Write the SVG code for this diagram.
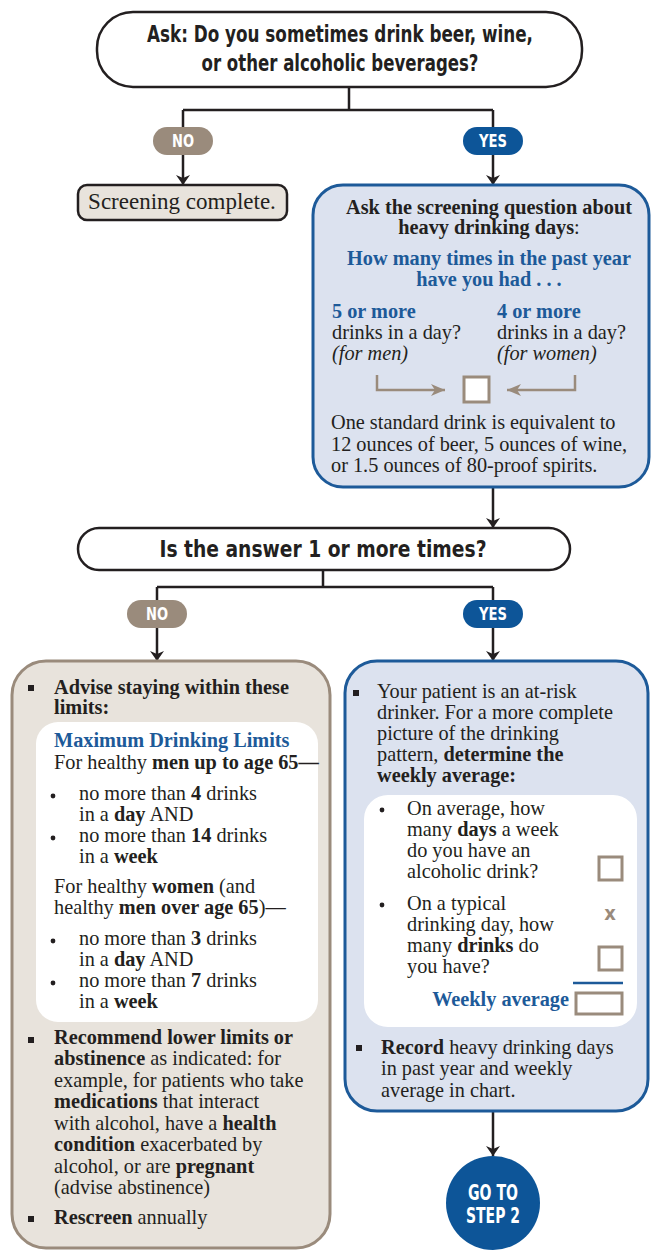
<svg xmlns="http://www.w3.org/2000/svg" width="670" height="1254" viewBox="0 0 670 1254">
<style>
.cond{font-family:"DejaVu Sans Condensed","DejaVu Sans",sans-serif;font-weight:bold;font-stretch:condensed}
.ser{font-family:"Liberation Serif",serif;font-size:20.3px;fill:#231f20}
.b{font-weight:bold}
.bl{fill:#1d5a99}
.it{font-style:italic}
.dec{fill:#fff;stroke:#231f20;stroke-width:2.5}
.conn{fill:none;stroke:#231f20;stroke-width:2.5}
.tan{fill:#e8e3dc;stroke:#9a8b7c;stroke-width:3}
.blu{fill:#dce2ef;stroke:#1d5a99;stroke-width:3}
.pillno{fill:#9a8b7c}
.pillyes{fill:#0d5598}
.pilltxt{fill:#fff;font-size:17px;text-anchor:middle}
.chk{fill:#fff;stroke:#9a8b7c;stroke-width:3}
.sq{fill:#231f20}
</style>
<defs>
<marker id="ah" viewBox="0 0 10 14" refX="10" refY="7" markerWidth="10" markerHeight="14" markerUnits="userSpaceOnUse" orient="auto">
<path d="M0,0 L10,7 L0,14 L3,7 Z" fill="#231f20"/>
</marker>
<marker id="ahT" viewBox="0 0 14 12" refX="14" refY="6" markerWidth="14" markerHeight="12" markerUnits="userSpaceOnUse" orient="auto">
<path d="M0,0 L14,6 L0,12 L4,6 Z" fill="#9a8b7c"/>
</marker>
</defs>

<g id="connectors">
<path class="conn" d="M349,87 V110 M183,110 H493 M183,110 V128 M493,110 V128"/>
<path class="conn" d="M183,154 V185" marker-end="url(#ah)"/>
<path class="conn" d="M493,154 V185" marker-end="url(#ah)"/>
<path class="conn" d="M493,488 V528" marker-end="url(#ah)"/>
<path class="conn" d="M323,570 V587 M157,587 H493 M157,587 V601 M493,587 V601"/>
<path class="conn" d="M157,627 V661" marker-end="url(#ah)"/>
<path class="conn" d="M493,627 V661" marker-end="url(#ah)"/>
<path class="conn" d="M493,1112 V1156" marker-end="url(#ah)"/>
</g>

<g id="q1">
<rect class="dec" x="97" y="12" width="485" height="75" rx="36"/>
<text class="cond" font-size="23" fill="#231f20" text-anchor="middle"><tspan x="340" y="42" textLength="386" lengthAdjust="spacingAndGlyphs">Ask: Do you sometimes drink beer, wine,</tspan><tspan x="340" y="71" textLength="277" lengthAdjust="spacingAndGlyphs">or other alcoholic beverages?</tspan></text>
</g>

<g id="no1">
<rect class="pillno" x="153" y="127" width="60" height="28" rx="14"/>
<text class="cond pilltxt" x="183" y="147" textLength="22" lengthAdjust="spacingAndGlyphs">NO</text>
</g>
<g id="yes1">
<rect class="pillyes" x="463" y="127" width="60" height="28" rx="14"/>
<text class="cond pilltxt" x="493" y="147" textLength="28" lengthAdjust="spacingAndGlyphs">YES</text>
</g>

<g id="screening-complete">
<rect x="78" y="185" width="209" height="35" rx="9" fill="#e8e3dc" stroke="#231f20" stroke-width="2.5"/>
<text class="ser" x="182" y="209" text-anchor="middle" style="font-size:23px">Screening complete.</text>
</g>

<g id="ask-heavy">
<rect class="blu" x="313" y="185" width="336" height="302" rx="30"/>
<text class="ser" text-anchor="middle"><tspan class="b" x="489" y="214">Ask the screening question about</tspan><tspan x="489" y="234"><tspan class="b">heavy drinking days</tspan>:</tspan></text>
<text class="ser b bl" text-anchor="middle"><tspan x="489" y="265">How many times in the past year</tspan><tspan x="489" y="286">have you had . . .</tspan></text>
<text class="ser"><tspan class="b bl" x="332" y="318">5 or more</tspan><tspan x="332" y="339">drinks in a day?</tspan><tspan class="it" x="332" y="360">(for men)</tspan></text>
<text class="ser"><tspan class="b bl" x="497" y="318">4 or more</tspan><tspan x="497" y="339">drinks in a day?</tspan><tspan class="it" x="497" y="360">(for women)</tspan></text>
<path d="M377,375 V390 H445" fill="none" stroke="#9a8b7c" stroke-width="2.5" marker-end="url(#ahT)"/>
<path d="M575,375 V390 H507" fill="none" stroke="#9a8b7c" stroke-width="2.5" marker-end="url(#ahT)"/>
<rect class="chk" x="464" y="377" width="25" height="25"/>
<text class="ser"><tspan x="331" y="429">One standard drink is equivalent to</tspan><tspan x="331" y="451">12 ounces of beer, 5 ounces of wine,</tspan><tspan x="331" y="472">or 1.5 ounces of 80-proof spirits.</tspan></text>
</g>

<g id="q2">
<rect class="dec" x="78" y="528" width="492" height="42" rx="21"/>
<text class="cond" font-size="23" fill="#231f20" text-anchor="middle" x="323" y="557" textLength="327" lengthAdjust="spacingAndGlyphs">Is the answer 1 or more times?</text>
</g>

<g id="no2">
<rect class="pillno" x="127" y="600" width="60" height="28" rx="14"/>
<text class="cond pilltxt" x="157" y="620" textLength="22" lengthAdjust="spacingAndGlyphs">NO</text>
</g>
<g id="yes2">
<rect class="pillyes" x="463" y="600" width="60" height="28" rx="14"/>
<text class="cond pilltxt" x="493" y="620" textLength="28" lengthAdjust="spacingAndGlyphs">YES</text>
</g>

<g id="advise">
<rect class="tan" x="12" y="661" width="318" height="587" rx="34"/>
<rect class="sq" x="28" y="685" width="6" height="6"/>
<text class="ser b"><tspan x="54" y="694">Advise staying within these</tspan><tspan x="54" y="714">limits:</tspan></text>
<rect x="36" y="722" width="282" height="300" rx="22" fill="#fff"/>
<text class="ser b bl" x="54" y="747">Maximum Drinking Limits</text>
<text class="ser" x="54" y="769">For healthy <tspan class="b">men up to age 65—</tspan></text>
<circle cx="53" cy="796" r="2.4" fill="#231f20"/>
<text class="ser"><tspan x="79" y="800">no more than <tspan class="b">4</tspan> drinks</tspan><tspan x="79" y="821">in a <tspan class="b">day</tspan> AND</tspan></text>
<circle cx="53" cy="838" r="2.4" fill="#231f20"/>
<text class="ser"><tspan x="79" y="842">no more than <tspan class="b">14</tspan> drinks</tspan><tspan x="79" y="863">in a <tspan class="b">week</tspan></tspan></text>
<text class="ser"><tspan x="54" y="893">For healthy <tspan class="b">women</tspan> (and</tspan><tspan x="54" y="914">healthy <tspan class="b">men over age 65</tspan>)—</tspan></text>
<circle cx="53" cy="941" r="2.4" fill="#231f20"/>
<text class="ser"><tspan x="79" y="945">no more than <tspan class="b">3</tspan> drinks</tspan><tspan x="79" y="966">in a <tspan class="b">day</tspan> AND</tspan></text>
<circle cx="53" cy="983" r="2.4" fill="#231f20"/>
<text class="ser"><tspan x="79" y="987">no more than <tspan class="b">7</tspan> drinks</tspan><tspan x="79" y="1008">in a <tspan class="b">week</tspan></tspan></text>
<rect class="sq" x="28" y="1037" width="6" height="6"/>
<text class="ser"><tspan x="54" y="1044" class="b">Recommend lower limits or</tspan><tspan x="54" y="1065"><tspan class="b">abstinence</tspan> as indicated: for</tspan><tspan x="54" y="1087">example, for patients who take</tspan><tspan x="54" y="1108"><tspan class="b">medications</tspan> that interact</tspan><tspan x="54" y="1130">with alcohol, have a <tspan class="b">health</tspan></tspan><tspan x="54" y="1151"><tspan class="b">condition</tspan> exacerbated by</tspan><tspan x="54" y="1173">alcohol, or are <tspan class="b">pregnant</tspan></tspan><tspan x="54" y="1194">(advise abstinence)</tspan></text>
<rect class="sq" x="28" y="1216" width="6" height="6"/>
<text class="ser" x="54" y="1224"><tspan class="b">Rescreen</tspan> annually</text>
</g>

<g id="at-risk">
<rect class="blu" x="345" y="661" width="303" height="450" rx="32"/>
<rect class="sq" x="353" y="690" width="6" height="6"/>
<text class="ser"><tspan x="377" y="698">Your patient is an at-risk</tspan><tspan x="377" y="719">drinker. For a more complete</tspan><tspan x="377" y="740">picture of the drinking</tspan><tspan x="377" y="761">pattern, <tspan class="b">determine the</tspan></tspan><tspan x="377" y="782" class="b">weekly average:</tspan></text>
<rect x="364" y="795" width="273" height="232" rx="24" fill="#fff"/>
<circle cx="382" cy="810" r="2.4" fill="#231f20"/>
<text class="ser"><tspan x="407" y="815">On average, how</tspan><tspan x="407" y="836">many <tspan class="b">days</tspan> a week</tspan><tspan x="407" y="857">do you have an</tspan><tspan x="407" y="878">alcoholic drink?</tspan></text>
<rect class="chk" x="599" y="857" width="23" height="23"/>
<circle cx="382" cy="905" r="2.4" fill="#231f20"/>
<text class="ser"><tspan x="407" y="910">On a typical</tspan><tspan x="407" y="931">drinking day, how</tspan><tspan x="407" y="952">many <tspan class="b">drinks</tspan> do</tspan><tspan x="407" y="973">you have?</tspan></text>
<text class="cond" font-size="20" fill="#9a8b7c" text-anchor="middle" x="610" y="920">x</text>
<rect class="chk" x="599" y="947" width="23" height="23"/>
<line x1="573" y1="983" x2="623" y2="983" stroke="#1d5a99" stroke-width="2.5"/>
<text class="ser b bl" x="569" y="1006" text-anchor="end">Weekly average</text>
<rect class="chk" x="576" y="993" width="46" height="21"/>
<rect class="sq" x="356" y="1045" width="6" height="6"/>
<text class="ser"><tspan x="381" y="1054"><tspan class="b">Record</tspan> heavy drinking days</tspan><tspan x="381" y="1075">in past year and weekly</tspan><tspan x="381" y="1097">average in chart.</tspan></text>
</g>

<g id="step2">
<circle cx="493" cy="1203" r="47" fill="#0d5598"/>
<text class="cond" font-size="21" fill="#fff" text-anchor="middle"><tspan x="493" y="1200" textLength="50" lengthAdjust="spacingAndGlyphs">GO TO</tspan><tspan x="493" y="1223" textLength="54" lengthAdjust="spacingAndGlyphs">STEP 2</tspan></text>
</g>
</svg>
